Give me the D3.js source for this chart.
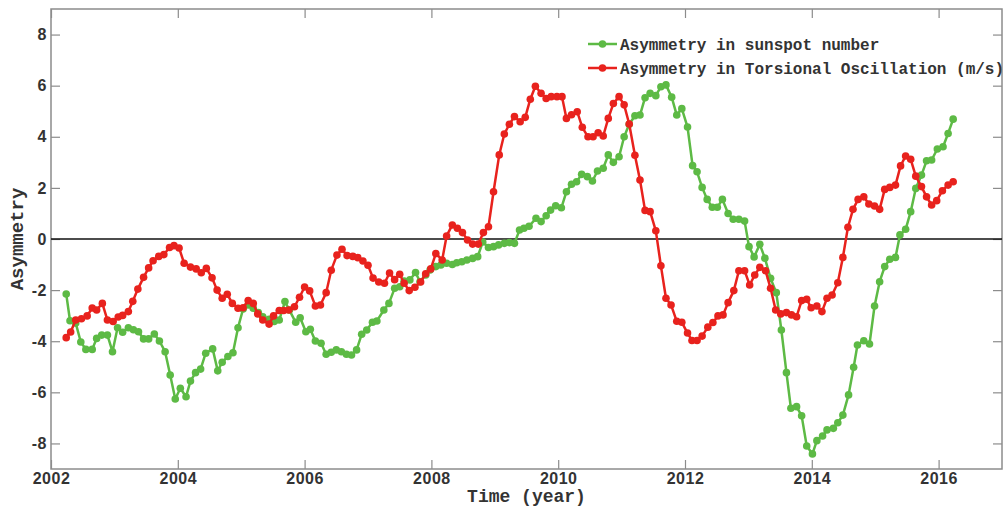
<!DOCTYPE html>
<html>
<head>
<meta charset="utf-8">
<script src="https://cdn.jsdelivr.net/npm/d3@7"></script>
<style>
  body { margin: 0; background: #fff; }
  .tick text { font-family: "Liberation Sans", Arial, sans-serif; font-weight: bold; font-size: 16px; fill: #333; letter-spacing: 0.5px; }
  .mono { font-family: "Liberation Mono", "Courier New", monospace; font-weight: bold; fill: #333; }
</style>
</head>
<body>
<div class="canvas"></div>
<script>
// sunspot number asymmetry (green)
const sunspotYears = [2002.24,2002.30,2002.39,2002.47,2002.55,2002.65,2002.72,2002.80,2002.89,2002.97,
  2003.05,2003.13,2003.22,2003.30,2003.38,2003.46,2003.54,2003.63,2003.71,2003.80,2003.88,2003.96,
  2004.04,2004.13,2004.20,2004.28,2004.36,2004.44,2004.55,2004.63,2004.70,2004.79,2004.87,2004.95,
  2005.03,2005.11,2005.19,2005.27,2005.34,2005.44,2005.52,2005.60,2005.69,2005.76,2005.86,2005.93,
  2006.02,2006.09,2006.17,2006.26,2006.34,2006.42,2006.50,2006.58,2006.66,2006.74,2006.82,2006.90,2006.98,
  2007.07,2007.14,2007.25,2007.33,2007.42,2007.50,2007.57,2007.66,2007.75,2007.82,2007.91,2007.98,
  2008.07,2008.15,2008.24,2008.33,2008.40,2008.48,2008.56,2008.65,2008.73,2008.81,2008.90,2008.98,
  2009.06,2009.15,2009.23,2009.31,2009.39,2009.46,2009.54,2009.65,2009.73,2009.81,2009.88,2009.96,
  2010.05,2010.13,2010.21,2010.29,2010.37,2010.46,2010.54,2010.62,2010.71,2010.79,2010.87,2010.96,
  2011.04,2011.12,2011.21,2011.29,2011.37,2011.45,2011.54,2011.62,2011.70,2011.79,2011.87,2011.95,
  2012.04,2012.12,2012.19,2012.27,2012.35,2012.43,2012.51,2012.59,2012.68,2012.76,2012.85,2012.94,
  2013.01,2013.09,2013.18,2013.26,2013.35,2013.44,2013.52,2013.60,2013.67,2013.76,2013.84,2013.92,
  2014.01,2014.08,2014.17,2014.24,2014.34,2014.41,2014.49,2014.58,2014.66,2014.72,2014.82,2014.91,
  2014.99,2015.07,2015.15,2015.23,2015.32,2015.39,2015.48,2015.56,2015.64,2015.73,2015.81,2015.89,
  2015.98,2016.07,2016.15,2016.23];
const sunspotAsym = [-2.15,-3.20,-3.29,-4.03,-4.32,-4.32,-3.89,-3.76,-3.76,-4.41,
  -3.47,-3.65,-3.47,-3.55,-3.63,-3.91,-3.91,-3.72,-3.99,-4.41,-5.32,-6.26,
  -5.84,-6.17,-5.56,-5.23,-5.09,-4.47,-4.30,-5.16,-4.82,-4.60,-4.45,-3.47,
  -2.74,-2.58,-2.71,-2.88,-3.04,-3.14,-3.23,-3.17,-2.45,-2.78,-3.26,-3.08,
  -3.63,-3.53,-3.99,-4.08,-4.51,-4.43,-4.34,-4.41,-4.51,-4.54,-4.34,-3.73,-3.56,
  -3.26,-3.21,-2.78,-2.52,-1.93,-1.87,-1.65,-1.60,-1.31,-1.67,-1.41,-1.21,
  -1.08,-1.02,-0.95,-1.00,-0.93,-0.89,-0.82,-0.76,-0.69,-0.12,-0.33,-0.30,
  -0.23,-0.17,-0.14,-0.17,0.35,0.42,0.50,0.81,0.68,0.91,1.13,1.30,
  1.22,1.85,2.14,2.24,2.53,2.44,2.27,2.66,2.77,3.29,3.00,3.22,
  4.00,4.49,4.82,4.85,5.53,5.70,5.61,5.96,6.03,5.55,4.85,5.10,
  4.38,2.87,2.63,2.02,1.55,1.24,1.24,1.55,1.00,0.77,0.77,0.70,
  -0.30,-0.70,-0.21,-0.75,-1.54,-2.10,-3.56,-5.23,-6.62,-6.56,-6.92,-8.10,
  -8.41,-7.89,-7.71,-7.47,-7.41,-7.19,-6.89,-6.10,-5.02,-4.15,-3.98,-4.11,
  -2.62,-1.67,-1.08,-0.79,-0.72,0.16,0.38,1.07,1.98,2.50,3.06,3.09,
  3.52,3.61,4.13,4.69];

// torsional oscillation asymmetry (red)
const toYears = [2002.24,2002.31,2002.39,2002.48,2002.57,2002.65,2002.72,2002.81,2002.89,2002.98,
  2003.06,2003.13,2003.22,2003.29,2003.37,2003.46,2003.54,2003.61,2003.70,2003.78,2003.87,2003.94,
  2004.02,2004.10,2004.20,2004.29,2004.37,2004.45,2004.54,2004.62,2004.70,2004.78,2004.86,2004.95,
  2005.03,2005.11,2005.19,2005.26,2005.34,2005.44,2005.51,2005.60,2005.67,2005.75,2005.84,2005.92,
  2006.00,2006.08,2006.17,2006.25,2006.34,2006.42,2006.51,2006.59,2006.67,2006.76,2006.84,2006.92,
  2007.00,2007.08,2007.17,2007.26,2007.34,2007.42,2007.50,2007.57,2007.65,2007.74,2007.83,2007.91,2007.99,
  2008.07,2008.17,2008.24,2008.33,2008.41,2008.49,2008.57,2008.65,2008.74,2008.82,2008.90,2008.98,
  2009.07,2009.15,2009.23,2009.31,2009.40,2009.48,2009.56,2009.64,2009.73,2009.81,2009.89,2009.98,
  2010.06,2010.13,2010.21,2010.30,2010.38,2010.47,2010.55,2010.63,2010.71,2010.79,2010.87,2010.96,
  2011.04,2011.12,2011.21,2011.29,2011.37,2011.45,2011.54,2011.62,2011.70,2011.78,2011.87,2011.95,
  2012.04,2012.11,2012.19,2012.27,2012.36,2012.44,2012.52,2012.60,2012.68,2012.77,2012.85,2012.94,
  2013.02,2013.10,2013.18,2013.27,2013.35,2013.43,2013.51,2013.60,2013.68,2013.76,2013.84,2013.92,
  2013.99,2014.08,2014.16,2014.24,2014.32,2014.41,2014.49,2014.57,2014.65,2014.73,2014.82,2014.90,
  2014.99,2015.07,2015.15,2015.23,2015.32,2015.40,2015.48,2015.56,2015.64,2015.73,2015.81,2015.89,
  2015.97,2016.06,2016.15,2016.23];
const toAsym = [-3.86,-3.64,-3.17,-3.12,-3.01,-2.70,-2.78,-2.52,-3.17,-3.23,
  -3.05,-2.99,-2.84,-2.44,-1.96,-1.50,-1.13,-0.85,-0.68,-0.61,-0.33,-0.26,
  -0.35,-0.95,-1.10,-1.17,-1.32,-1.15,-1.52,-2.00,-2.32,-2.16,-2.52,-2.71,
  -2.69,-2.41,-2.52,-2.93,-3.17,-3.33,-3.01,-2.80,-2.80,-2.78,-2.65,-2.28,
  -1.88,-2.03,-2.62,-2.58,-2.10,-1.22,-0.63,-0.40,-0.65,-0.68,-0.73,-0.86,
  -1.03,-1.53,-1.68,-1.73,-1.33,-1.59,-1.38,-1.73,-2.02,-1.89,-1.68,-1.36,-1.17,
  -0.57,-0.82,0.12,0.55,0.42,0.25,-0.04,-0.20,-0.20,0.25,0.48,1.85,
  3.29,4.11,4.49,4.79,4.59,4.76,5.47,5.98,5.70,5.50,5.57,5.57,
  5.57,4.72,4.86,4.98,4.37,4.00,4.00,4.16,4.03,4.72,5.30,5.57,
  5.25,4.50,3.28,2.31,1.12,1.07,0.32,-1.05,-2.32,-2.58,-3.22,-3.26,
  -3.68,-3.97,-3.97,-3.80,-3.45,-3.27,-3.01,-2.97,-2.49,-2.02,-1.24,-1.24,
  -1.80,-1.41,-1.11,-1.24,-1.93,-2.78,-2.93,-2.88,-2.97,-3.04,-2.41,-2.36,
  -2.69,-2.62,-2.84,-2.32,-2.19,-1.71,-0.72,0.46,1.16,1.55,1.65,1.37,
  1.29,1.16,1.94,2.02,2.11,2.86,3.25,3.12,2.46,2.05,1.65,1.33,
  1.50,1.89,2.11,2.24];

const xTicks = [2002, 2004, 2006, 2008, 2010, 2012, 2014, 2016];
const yTicks = [-8, -6, -4, -2, 0, 2, 4, 6, 8];
const seriesNames = ['Asymmetry in sunspot number', 'Asymmetry in Torsional Oscillation (m/s)'];
const seriesColours = ['#5dba45', '#e8221d'];

const dims = {width: 1003, height: 506};
const margin = {top: 9, right: 1, bottom: 37, left: 51};

const svg = d3.select('.canvas')
    .append('svg')
    .attr('width', dims.width)
    .attr('height', dims.height);

const x = d3.scaleLinear()
    .domain([2002, 2017])
    .range([margin.left, dims.width - margin.right]);

const y = d3.scaleLinear()
    .domain([-9, 9])
    .range([dims.height - margin.bottom, margin.top]);

const axisGrey = '#8c8c8c';

// axes, ticks pointing inward
const styleAxis = g => {
    g.select('.domain').remove();
    g.selectAll('.tick line').attr('stroke', axisGrey).attr('stroke-width', 1.2);
};

svg.append('g')
    .attr('transform', `translate(0, ${y(-9)})`)
    .call(d3.axisBottom(x).tickValues(xTicks).tickSize(-9).tickPadding(4).tickFormat(d => d))
    .call(styleAxis);

svg.append('g')
    .attr('transform', `translate(0, ${y(9)})`)
    .call(d3.axisTop(x).tickValues(xTicks).tickSize(-9).tickFormat(''))
    .call(styleAxis);

svg.append('g')
    .attr('transform', `translate(${x(2002)}, 0)`)
    .call(d3.axisLeft(y).tickValues(yTicks).tickSize(-9).tickPadding(4).tickFormat(d => d))
    .call(styleAxis);

svg.append('g')
    .attr('transform', `translate(${x(2017)}, 0)`)
    .call(d3.axisRight(y).tickValues(yTicks).tickSize(-9).tickFormat(''))
    .call(styleAxis);

svg.selectAll('.tick text').attr('fill', '#333');

// frame
svg.append('rect')
    .attr('x', x(2002))
    .attr('y', y(9))
    .attr('width', x(2017) - x(2002))
    .attr('height', y(-9) - y(9))
    .attr('fill', 'none')
    .attr('stroke', axisGrey)
    .attr('stroke-width', 1.5);

// zero line
svg.append('line')
    .attr('x1', x(2002)).attr('x2', x(2017))
    .attr('y1', y(0)).attr('y2', y(0))
    .attr('stroke', '#111')
    .attr('stroke-width', 1.5);

const line = d3.line()
    .x(d => x(d[0]))
    .y(d => y(d[1]));

const series = [
    d3.zip(sunspotYears, sunspotAsym),
    d3.zip(toYears, toAsym)
];

series.forEach((pts, i) => {
    const g = svg.append('g');
    g.append('path')
        .datum(pts)
        .attr('d', line)
        .attr('fill', 'none')
        .attr('stroke', seriesColours[i])
        .attr('stroke-width', 2.5)
        .attr('stroke-linejoin', 'round');
    g.selectAll('circle')
        .data(pts)
        .enter()
        .append('circle')
        .attr('cx', d => x(d[0]))
        .attr('cy', d => y(d[1]))
        .attr('r', 3.8)
        .attr('fill', seriesColours[i]);
});

// legend
const legend = svg.append('g')
    .attr('transform', 'translate(588, 44)');

seriesNames.forEach((name, i) => {
    const row = legend.append('g').attr('transform', `translate(0, ${i * 24})`);
    row.append('line')
        .attr('x1', 0).attr('x2', 29)
        .attr('stroke', seriesColours[i])
        .attr('stroke-width', 2.5);
    row.append('circle')
        .attr('cx', 14.5)
        .attr('r', 3.8)
        .attr('fill', seriesColours[i]);
    row.append('text')
        .attr('class', 'mono')
        .attr('x', 32)
        .attr('dy', '0.35em')
        .style('font-size', '16px')
        .text(name);
});

// axis titles
svg.append('text')
    .attr('class', 'mono')
    .attr('x', (x(2002) + x(2017)) / 2)
    .attr('y', 502)
    .attr('text-anchor', 'middle')
    .style('font-size', '18px')
    .text('Time (year)');

svg.append('text')
    .attr('class', 'mono')
    .attr('transform', `translate(23, ${y(0)}) rotate(-90)`)
    .attr('text-anchor', 'middle')
    .style('font-size', '19px')
    .text('Asymmetry');
</script>
</body>
</html>
